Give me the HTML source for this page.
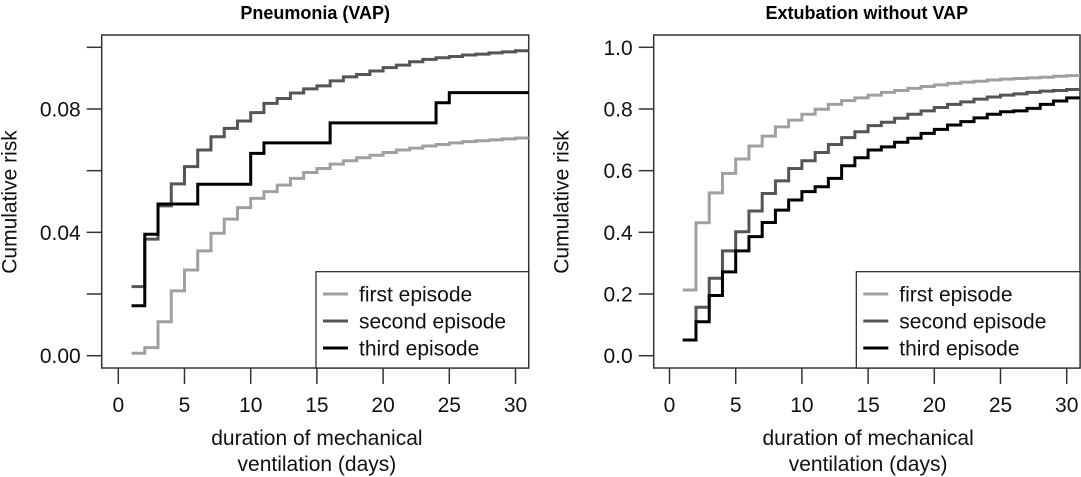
<!DOCTYPE html>
<html><head><meta charset="utf-8"><style>
html,body{margin:0;padding:0;background:#fff;}
svg{display:block;font-family:"Liberation Sans",Arial,sans-serif;}
</style></head><body>
<svg id="chart" width="1081" height="477" viewBox="0 0 1081 477" xmlns="http://www.w3.org/2000/svg"></svg>
<script>
const days = [1,2,3,4,5,6,7,8,9,10,11,12,13,14,15,16,17,18,19,20,21,22,23,24,25,26,27,28,29,30];
const vapFirst = [0.0008,0.0026,0.011,0.021,0.0278,0.034,0.0397,0.0443,0.048,0.051,0.0532,0.0553,0.0575,0.0594,0.0607,0.0621,0.0632,0.0642,0.065,0.0659,0.0667,0.0673,0.068,0.0685,0.069,0.0694,0.0697,0.07,0.0703,0.0706];
const vapSecond = [0.0224,0.0378,0.0486,0.0557,0.0613,0.0667,0.071,0.0737,0.0761,0.0788,0.0818,0.0834,0.0852,0.0865,0.0875,0.0891,0.0904,0.0912,0.0923,0.0934,0.0942,0.0953,0.0961,0.0966,0.097,0.0975,0.0978,0.0982,0.0985,0.0989];
const vapThird = [0.0162,0.0394,0.0492,0.0492,0.0492,0.0556,0.0556,0.0556,0.0556,0.0656,0.069,0.069,0.069,0.069,0.069,0.0755,0.0755,0.0755,0.0755,0.0755,0.0755,0.0755,0.0755,0.082,0.0853,0.0853,0.0853,0.0853,0.0853,0.0853];
const extFirst = [0.213,0.431,0.528,0.591,0.638,0.68,0.712,0.742,0.764,0.783,0.799,0.815,0.827,0.836,0.845,0.854,0.86,0.867,0.873,0.878,0.883,0.887,0.89,0.894,0.897,0.899,0.901,0.903,0.906,0.908];
const extSecond = [0.051,0.157,0.251,0.34,0.402,0.469,0.526,0.567,0.607,0.632,0.659,0.685,0.707,0.726,0.746,0.757,0.77,0.783,0.794,0.805,0.815,0.823,0.832,0.839,0.845,0.849,0.854,0.858,0.86,0.863];
const extThird = [0.051,0.11,0.195,0.272,0.34,0.386,0.432,0.472,0.505,0.532,0.548,0.575,0.616,0.642,0.667,0.677,0.692,0.705,0.721,0.734,0.748,0.759,0.771,0.783,0.791,0.794,0.802,0.815,0.826,0.836];
const xTicks = [0,5,10,15,20,25,30];
const vapYTicks = [0,0.02,0.04,0.06,0.08,0.1];
const vapYLabels = ["0.00","","0.04","","0.08",""];
const extYTicks = [0,0.2,0.4,0.6,0.8,1.0];
const extYLabels = ["0.0","0.2","0.4","0.6","0.8","1.0"];
const seriesNames = ["first episode","second episode","third episode"];
const seriesColors = ["#a0a0a0","#555555","#000000"];

const svg = document.getElementById('chart');
const NS = "http://www.w3.org/2000/svg";
const FS = 21;
function mk(tag, attrs, parent){const e=document.createElementNS(NS,tag);for(const k in attrs)e.setAttribute(k,attrs[k]);(parent||svg).appendChild(e);return e;}

function panel(p){
  const g = mk('g',{});
  
  
  const xs = v => p.x0 + v*13.24;
  const ys = v => 355.7 - (v - 0)/p.yMax*(355.7-47.3);
  const box = mk('rect',{x:p.left,y:35,width:p.right-p.left,height:333,fill:'none',stroke:'#333','stroke-width':1.5},g);
  
  
  const t = mk('text',{x:(p.left+p.right)/2,y:19,'text-anchor':'middle','font-size':18,'font-weight':'bold',fill:'#000'},g);
  t.textContent = p.title;
  
  
  p.yTicks.forEach((v,i)=>{
    const y=ys(v);
    const tk=mk('line',{x1:p.left-15,x2:p.left,y1:y,y2:y,stroke:'#333','stroke-width':1.5},g);
    
    
    if(p.yLabels[i]){
      const l=mk('text',{x:p.left-21,y:y+7.5,'text-anchor':'end','font-size':FS,fill:'#111'},g);
      l.textContent=p.yLabels[i];
      
      
    }
  });
  const yl = mk('text',{x:0,y:0,transform:`translate(${p.left-85},${202}) rotate(-90)`,'text-anchor':'middle','font-size':FS,fill:'#111'},g);
  yl.textContent='Cumulative risk';
  
  
  xTicks.forEach(v=>{
    const x=xs(v);
    const tk=mk('line',{x1:x,x2:x,y1:368,y2:384,stroke:'#333','stroke-width':1.5},g);
    
    
    const l=mk('text',{x:x,y:412,'text-anchor':'middle','font-size':FS,fill:'#111'},g);
    l.textContent=v;
    
    
  });
  const cx = xs(15);
  const x1=mk('text',{x:cx,y:445,'text-anchor':'middle','font-size':FS,fill:'#111'},g);
  x1.textContent='duration of mechanical';
  
  
  const x2=mk('text',{x:cx,y:471,'text-anchor':'middle','font-size':FS,fill:'#111'},g);
  x2.textContent='ventilation (days)';
  
  
  const cid='clip'+p.id;
  const cp=mk('clipPath',{id:cid},g);
  mk('rect',{x:p.left,y:35,width:p.right-p.left,height:333},cp);
  p.series.forEach((vals,si)=>{
    let d='';
    days.forEach((dd,i)=>{
      const x=xs(dd), y=ys(vals[i]);
      d += (i===0?`M${x},${y}`:`L${x},${ys(vals[i-1])}L${x},${y}`);
    });
    d += `L${xs(31.5)},${ys(vals[vals.length-1])}`;
    const pa=mk('path',{d:d,fill:'none',stroke:seriesColors[si],'stroke-width':3,'clip-path':`url(#${cid})`},g);
    
    
  });
  const lg = mk('g',{},g);
  
  
  mk('rect',{x:p.legX,y:271.7,width:p.right-p.legX,height:96.3,fill:'#fff',stroke:'#222','stroke-width':1.2},lg);
  seriesNames.forEach((n,i)=>{
    const y=294+i*27;
    const e=mk('g',{},lg);
    
    
    mk('line',{x1:p.legX+7,x2:p.legX+32,y1:y,y2:y,stroke:seriesColors[i],'stroke-width':3},e);
    const tx=mk('text',{x:p.legX+43,y:y+7.5,'font-size':FS,fill:'#111'},e);
    tx.textContent=n;
  });
}
panel({id:1,name:'panel-pneumonia',title:'Pneumonia (VAP)',left:101.7,right:528.7,x0:118.3,yMax:0.1,yTicks:vapYTicks,yLabels:vapYLabels,series:[vapFirst,vapSecond,vapThird],legX:316});
panel({id:2,name:'panel-extubation',title:'Extubation without VAP',left:653.7,right:1080,x0:669.5,yMax:1.0,yTicks:extYTicks,yLabels:extYLabels,series:[extFirst,extSecond,extThird],legX:856.3});
</script>
</body></html>
